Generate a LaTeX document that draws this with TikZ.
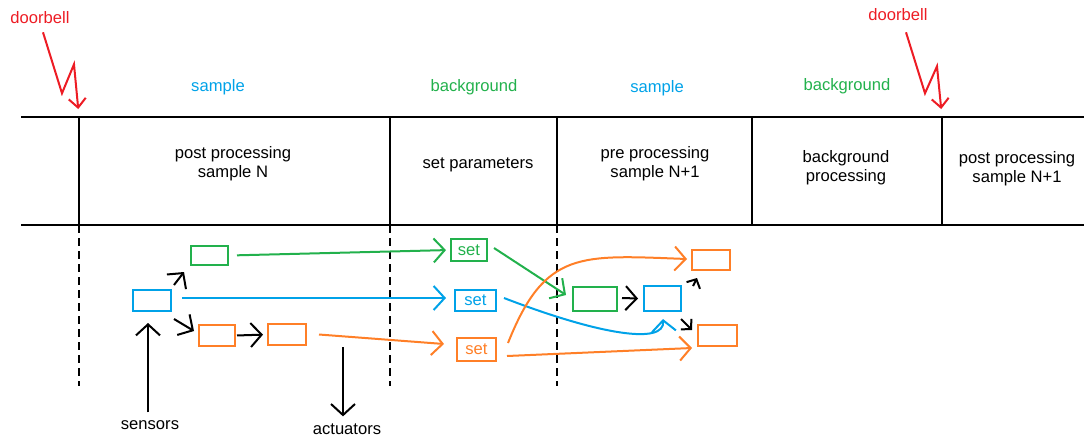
\documentclass[tikz,border=0pt]{standalone}
\usepackage{fontspec}
\setmainfont{Liberation Sans}
\usetikzlibrary{arrows.meta}
\definecolor{bellred}{RGB}{237,28,36}
\definecolor{smpblue}{RGB}{0,162,232}
\definecolor{bggreen}{RGB}{34,177,76}
\definecolor{actorange}{RGB}{255,127,39}
\begin{document}
\begin{tikzpicture}[x=1pt,y=-1pt,
  every node/.style={font=\fontsize{16.6}{19}\selectfont, inner sep=0pt},
  rule/.style={line width=2pt},
  cut/.style={line width=2pt, dash pattern=on 8pt off 5pt},
  box/.style={draw, line width=2pt, inner sep=0pt},
  tipline/.style={line width=2pt, -{Straight Barb[length=11pt,width=24pt]}},
  smalltip/.style={line width=2pt, -{Straight Barb[length=7pt,width=15pt]}},
  bell/.style={bellred, line width=2pt, line join=miter,
    -{Straight Barb[length=9pt,width=17pt]}}]

\useasboundingbox (0,0) rectangle (1084,440);

% time line table
\draw[rule] (21,117) -- (1084,117);
\draw[rule] (21,225) -- (1084,225);
\foreach \x in {79,390,557,751.5,942} \draw[rule] (\x,117) -- (\x,225);
\foreach \x in {79,390,557} \draw[cut] (\x,225) -- (\x,386);

\node[align=center] (c1) at (233,163.5) {post processing\\sample N};
\node (c2) at (478,165) {set parameters};
\node[align=center] (c3) at (655,164) {pre processing\\sample N+1};
\node[align=center] (c4) at (846,167.5) {background\\processing};
\node[align=center] (c5) at (1017,169) {post processing\\sample N+1};

% phase labels
\node[text=smpblue] (s1) at (218,87) {sample};
\node[text=bggreen] (bg1) at (474,87) {background};
\node[text=smpblue] (s2) at (657,88) {sample};
\node[text=bggreen] (bg2) at (847,86) {background};

% doorbell interrupts
\node[text=bellred] (db1) at (40,18) {doorbell};
\node[text=bellred] (db2) at (898,15) {doorbell};
\coordinate (hit1) at (79,117);
\coordinate (hit2) at (942,117);
\draw[bell, shorten >=8pt] ([shift={(3,8)}]db1.south) -- ++(19,61) -- ++(12,-29) -- (hit1);
\draw[bell, shorten >=8pt] ([shift={(8,11)}]db2.south) -- ++(19,61) -- ++(12,-27) -- (hit2);

% processing blocks
\node[box, draw=bggreen, minimum width=37pt, minimum height=19pt] (g1) at (209.5,255.5) {};
\node[box, draw=smpblue, minimum width=38pt, minimum height=21pt] (b1) at (152,300.5) {};
\node[box, draw=actorange, minimum width=36pt, minimum height=21pt] (o1) at (217,335.5) {};
\node[box, draw=actorange, minimum width=38pt, minimum height=21pt] (o2) at (287,334.5) {};
\node[box, draw=bggreen, text=bggreen, minimum width=36pt, minimum height=22pt] (gs) at (469,250) {set};
\node[box, draw=smpblue, text=smpblue, minimum width=41pt, minimum height=21pt] (bs) at (475.5,300.5) {set};
\node[box, draw=actorange, text=actorange, minimum width=39pt, minimum height=23pt] (os) at (476.5,349.5) {set};
\node[box, draw=bggreen, minimum width=44pt, minimum height=24pt] (g2) at (595,299) {};
\node[box, draw=smpblue, minimum width=37pt, minimum height=25pt] (b2) at (662.5,298.5) {};
\node[box, draw=actorange, minimum width=38pt, minimum height=20pt] (o3) at (711,260) {};
\node[box, draw=actorange, minimum width=39pt, minimum height=21pt] (o4) at (717.5,335.5) {};

% sensors and actuators
\node (sens) at (150,425) {sensors};
\node (actu) at (347,429) {actuators};
\coordinate (act) at (343,347);
\draw[tipline] ([shift={(-2,-8)}]sens.north) -- ([shift={(-4,11)}]b1.south);
\draw[tipline] (act) -- ([shift={(-4,-7)}]actu.north);

% data flow within the sample
\draw[tipline] ([shift={(2,-4)}]b1.north east) -- ([shift={(-6,6)}]g1.south west);
\draw[tipline] ([shift={(2,7)}]b1.south east) -- ([shift={(-4,-4.5)}]o1.west);
\draw[tipline, shorten <=1pt, shorten >=4pt] (o1.east) -- (o2.west);

% parameters handed over
\draw[tipline, bggreen, shorten <=8pt, shorten >=4pt] (g1.east) -- (gs.west);
\draw[tipline, smpblue] ([shift={(10,-2.5)}]b1.east) -- ([shift={(-8,-2.5)}]bs.west);
\draw[tipline, actorange] ([shift={(12,0)}]o2.east) -- ([shift={(-12,-5.5)}]os.west);

% next sample
\draw[tipline, bggreen] ([shift={(6,-2)}]gs.east) -- ([shift={(-6,-4)}]g2.west);
\draw[tipline] ([shift={(4,-1)}]g2.east) -- ([shift={(-5,0)}]b2.west);
\draw[tipline, smpblue] ([shift={(7,-2.5)}]bs.east) .. controls (600,335) and (665,345) .. ([shift={(0.5,7)}]b2.south);
\draw[tipline, actorange] ([shift={(11,-6.5)}]os.east) .. controls (545,250) and (580,255) .. ([shift={(-4,-1)}]o3.west);
\draw[tipline, actorange] ([shift={(10,6.5)}]os.east) -- ([shift={(-5,1)}]o4.south west);
\draw[smalltip] ([shift={(11,1)}]b2.north east) -- ([shift={(6,7)}]o3.south west);
\draw[smalltip] ([shift={(-1,7)}]b2.south east) -- ([shift={(-5,6)}]o4.north west);
\end{tikzpicture}
\end{document}
